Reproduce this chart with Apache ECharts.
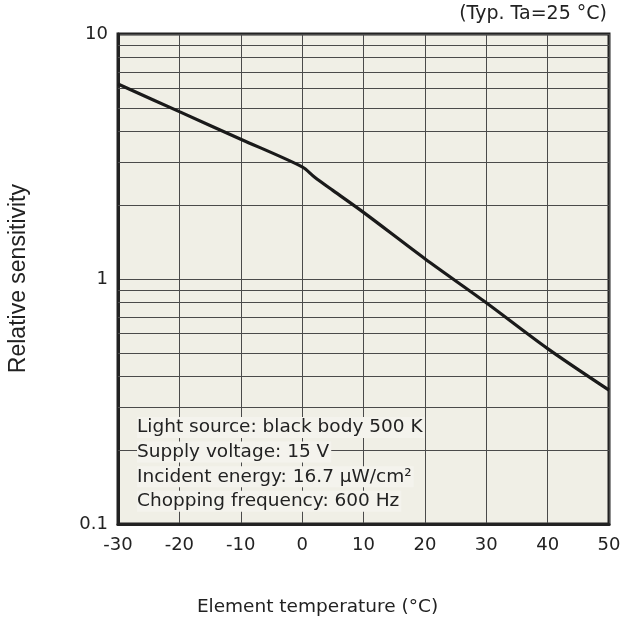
<!DOCTYPE html>
<html>
<head>
<meta charset="utf-8">
<script src="https://cdn.jsdelivr.net/npm/echarts@6/dist/echarts.min.js"></script>
<style>
  html, body { margin: 0; padding: 0; background: #ffffff; }
  #chart { width: 635px; height: 623px; }
</style>
</head>
<body>
<div id="chart"></div>
<script>
// Element temperature (°C) vs. relative sensitivity
const temperatures = [-30, -20, -10, 0, 2, 5, 10, 20, 30, 40, 50];
const sensitivity = [6.25, 4.82, 3.72, 2.87, 2.61, 2.30, 1.87, 1.21, 0.80, 0.52, 0.352];

// Minor log grid lines (2..9 within each decade)
const minorGrid = [0.2, 0.3, 0.4, 0.5, 0.6, 0.7, 0.8, 0.9, 2, 3, 4, 5, 6, 7, 8, 9];

const xTicks = { min: -30, max: 50, step: 10 };
const yRange = { min: 0.1, max: 10 };

const conditions = [
  'Light source: black body 500 K',
  'Supply voltage: 15 V',
  'Incident energy: 16.7 \u00b5W/cm\u00b2',
  'Chopping frequency: 600 Hz'
];

const FONT = 'DejaVu Sans';
const INK = '#222222';
const GRIDC = '#4a4a4a';
const PLOT_BG = '#f0efe6';

const chart = echarts.init(document.getElementById('chart'), null, { renderer: 'canvas' });

const gridBox = { left: 118, right: 26, top: 34, bottom: 99 };

const conditionTexts = conditions.map((t, i) => ({
  type: 'text',
  left: 137,
  top: 417 + i * 24.6,
  z: 10,
  style: {
    text: t,
    font: '18.5px "' + FONT + '"',
    fill: INK,
    backgroundColor: '#f4f3ed',
    padding: [1, 2, 1, 0]
  }
}));

chart.setOption({
  animation: false,
  backgroundColor: '#ffffff',
  grid: {
    left: gridBox.left, right: gridBox.right, top: gridBox.top, bottom: gridBox.bottom,
    show: true, backgroundColor: PLOT_BG, borderColor: INK, borderWidth: 3
  },
  xAxis: {
    type: 'value',
    min: xTicks.min, max: xTicks.max, interval: xTicks.step,
    axisLine: { show: true, onZero: false, lineStyle: { color: INK, width: 3 } },
    axisTick: { show: false },
    axisLabel: { color: INK, fontFamily: FONT, fontSize: 18, margin: 12 },
    splitLine: { show: true, lineStyle: { color: GRIDC, width: 1 } }
  },
  yAxis: {
    type: 'log', logBase: 10,
    min: yRange.min, max: yRange.max,
    axisLine: { show: true, onZero: false, lineStyle: { color: INK, width: 3 } },
    axisTick: { show: false },
    axisLabel: {
      color: INK, fontFamily: FONT, fontSize: 18, margin: 10,
      formatter: v => (v >= 1 ? String(Math.round(v)) : String(+v.toFixed(1)))
    },
    splitLine: { show: true, lineStyle: { color: GRIDC, width: 1 } }
  },
  graphic: [
    {
      type: 'text', right: 28, top: 5,
      style: { text: '(Typ. Ta=25 \u00b0C)', font: '19px "' + FONT + '"', fill: INK }
    },
    {
      type: 'text', left: 'center', top: 598,
      style: { text: 'Element temperature (\u00b0C)', font: '18.5px "' + FONT + '"', fill: INK }
    },
    {
      type: 'text', left: 7, top: 184, rotation: Math.PI / 2,
      style: { text: 'Relative sensitivity', font: '23px "Liberation Sans"', fill: INK }
    },
    ...conditionTexts
  ],
  series: [
    {
      type: 'line', data: [], silent: true, z: 1,
      markLine: {
        silent: true, symbol: 'none', animation: false,
        label: { show: false },
        lineStyle: { color: GRIDC, width: 1, type: 'solid' },
        data: minorGrid.map(v => ({ yAxis: v }))
      }
    },
    {
      type: 'line', z: 5,
      data: temperatures.map((t, i) => [t, sensitivity[i]]),
      smooth: 0.3,
      showSymbol: false,
      lineStyle: { color: '#1a1a1a', width: 3.2 }
    }
  ]
});
</script>
</body>
</html>
